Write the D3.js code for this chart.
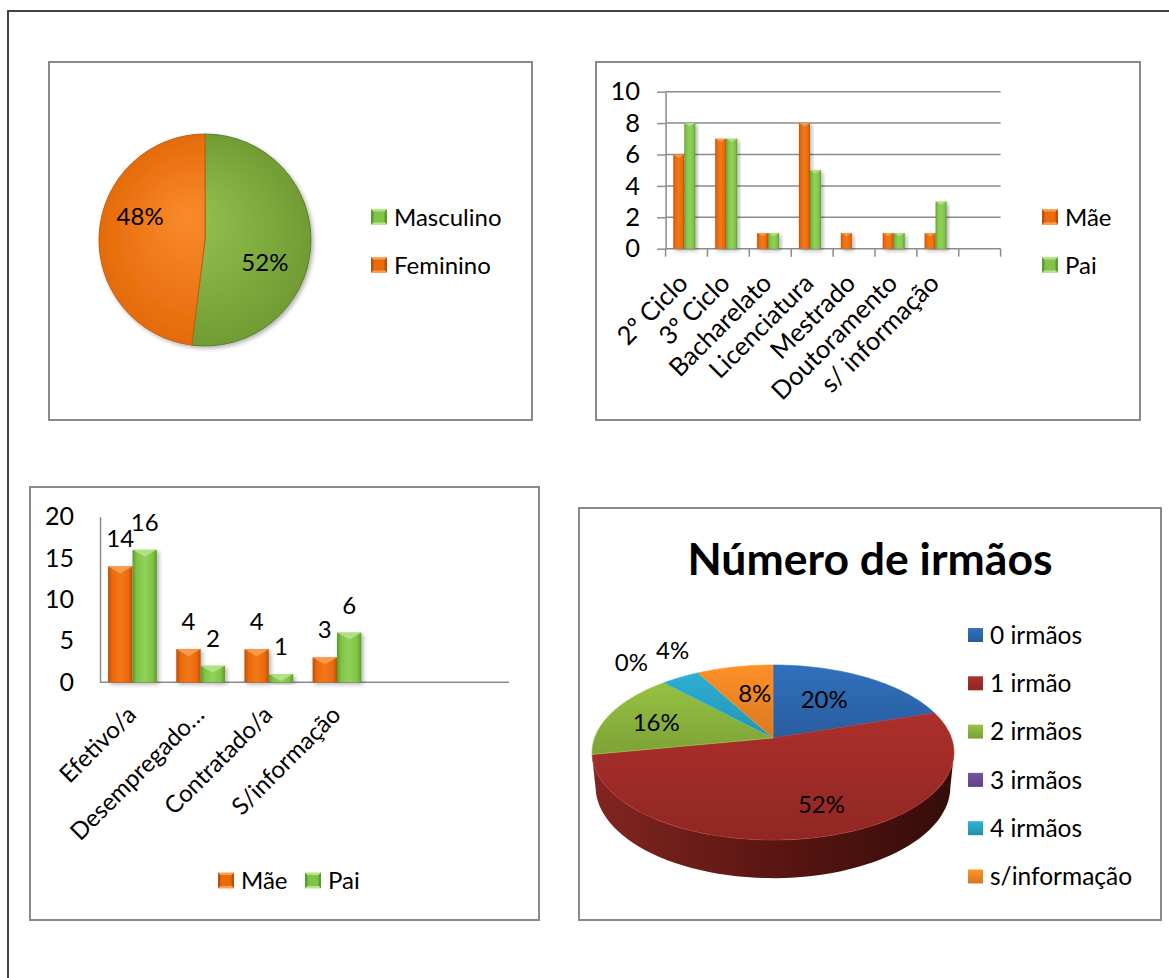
<!DOCTYPE html>
<html>
<head>
<meta charset="utf-8">
<script src="https://cdn.jsdelivr.net/npm/d3@7"></script>
<style>
  body { margin: 0; background: #fff; }
  text { font-family: Lato, "Open Sans", sans-serif; fill: #000; }
</style>
</head>
<body>
<svg id="chart"></svg>
<script>
// ---- data ----
// gender
const genderLabels = ["Masculino", "Feminino"];
const genderCounts = [13, 12];

// parents' education (last slot is an empty category)
const eduLevels = ["2º Ciclo", "3º Ciclo", "Bacharelato", "Licenciatura", "Mestrado", "Doutoramento", "s/ informação", ""];
const eduMae = [6, 7, 1, 8, 1, 1, 1, null];
const eduPai = [8, 7, 1, 5, 0, 1, 3, null];
const eduTicks = [0, 2, 4, 6, 8, 10];

// parents' job situation (last two slots empty)
const jobLabels = ["Efetivo/a", "Desempregado…", "Contratado/a", "S/informação", "", ""];
const jobMae = [14, 4, 4, 3, null, null];
const jobPai = [16, 2, 1, 6, null, null];
const jobTicks = [0, 5, 10, 15, 20];

// siblings
const sibLabels = ["0 irmãos", "1 irmão", "2 irmãos", "3 irmãos", "4 irmãos", "s/informação"];
const sibCounts = [5, 13, 4, 0, 1, 2];

const seriesNames = ["Mãe", "Pai"];

// ---- styles ----
const fs = 24;
const frameColor = "#8a8a8a";
const orange = { dark: "#b8520a", mid: "#ec6a0a", light: "#f9a256" };
const green = { dark: "#5f9a2c", mid: "#80c447", light: "#b8e48c" };
const sibColors = ["#2d66ad", "#9d2b27", "#89b13c", "#6a4a98", "#2aa0c2", "#ec8424"];
const pct = d3.format(".0%");

const svg = d3.select("#chart").attr("width", 1169).attr("height", 978);
const defs = svg.append("defs");

function linGrad(id, stops, x2 = 1, y2 = 0) {
  const g = defs.append("linearGradient").attr("id", id)
    .attr("x1", 0).attr("y1", 0).attr("x2", x2).attr("y2", y2);
  stops.forEach(([o, c]) => g.append("stop").attr("offset", o).attr("stop-color", c));
}
linGrad("barOrange", [[0, orange.dark], [0.18, orange.mid], [0.5, "#f27818"], [0.82, orange.mid], [1, orange.dark]]);
linGrad("barGreen", [[0, green.dark], [0.18, green.mid], [0.5, "#90d25a"], [0.82, green.mid], [1, green.dark]]);

const shadow = defs.append("filter").attr("id", "shadow").attr("x", "-30%").attr("y", "-30%").attr("width", "160%").attr("height", "160%");
shadow.append("feDropShadow").attr("dx", 2).attr("dy", 2).attr("stdDeviation", 2)
  .attr("flood-color", "#000").attr("flood-opacity", 0.3);

// outer page frame
svg.append("path").attr("d", "M8,978V11H1169").attr("fill", "none").attr("stroke", "#444").attr("stroke-width", 2);

// chart boxes
const boxes = [[49, 62, 483, 358], [596, 62, 544, 358], [30, 487, 509, 433], [579, 508, 582, 412]];
svg.append("g").selectAll("rect").data(boxes).join("rect")
  .attr("x", d => d[0]).attr("y", d => d[1]).attr("width", d => d[2]).attr("height", d => d[3])
  .attr("fill", "#fff").attr("stroke", frameColor).attr("stroke-width", 2);

function bevelMarker(g, x, y, size, c) {
  const m = g.append("g").attr("transform", `translate(${x},${y})`);
  const h = size / 2;
  const tris = [
    [[0, 0], [size, 0], [h, h], c.light],
    [[size, 0], [size, size], [h, h], c.dark],
    [[0, size], [size, size], [h, h], c.light],
    [[0, 0], [0, size], [h, h], c.dark]
  ];
  tris.forEach(t => m.append("path").attr("d", `M${t[0]}L${t[1]}L${t[2]}Z`).attr("fill", t[3]));
  m.append("rect").attr("x", 2.5).attr("y", 2.5).attr("width", size - 5).attr("height", size - 5).attr("fill", c.mid);
}

function bevelBar(g, x, y, w, h, grad, c) {
  if (h <= 0) return;
  const b = g.append("g").attr("filter", "url(#shadow)");
  b.append("rect").attr("x", x).attr("y", y).attr("width", w).attr("height", h).attr("fill", `url(#${grad})`);
  const d = Math.min(w * 0.3, 7, h);
  b.append("path").attr("d", `M${x},${y}L${x + w},${y}L${x + w / 2},${y + d}Z`).attr("fill", c.light).attr("opacity", 0.85);
}

// ================= chart 1: gender pie =================
{
  const cx = 205, cy = 240, r = 106;
  const pieGrad = [["#97c352", "#719c33"], ["#f98a2c", "#e56b09"]];
  pieGrad.forEach((c, i) => {
    const rg = defs.append("radialGradient").attr("id", "pie1g" + i)
      .attr("gradientUnits", "userSpaceOnUse").attr("cx", 0).attr("cy", 0).attr("r", r)
      .attr("fx", -20).attr("fy", -25);
    rg.append("stop").attr("offset", 0).attr("stop-color", c[0]);
    rg.append("stop").attr("offset", 1).attr("stop-color", c[1]);
  });
  const g = svg.append("g").attr("transform", `translate(${cx},${cy})`);
  const arcs = d3.pie().sort(null)(genderCounts);
  const arc = d3.arc().innerRadius(0).outerRadius(r);
  const labelArc = d3.arc().innerRadius(64).outerRadius(64);
  const total = d3.sum(genderCounts);
  const nudge = [[-4, 18], [-1, -20]];
  g.append("g").attr("filter", "url(#shadow)").selectAll("path").data(arcs).join("path")
    .attr("d", arc).attr("fill", (d, i) => `url(#pie1g${i})`)
    .attr("stroke", (d, i) => i === 0 ? "#5d7f2a" : "#c85d08").attr("stroke-width", 1);
  g.selectAll("text").data(arcs).join("text")
    .attr("x", (d, i) => labelArc.centroid(d)[0] + nudge[i][0])
    .attr("y", (d, i) => labelArc.centroid(d)[1] + nudge[i][1])
    .attr("dy", "0.36em").attr("text-anchor", "middle").attr("font-size", fs)
    .text(d => pct(d.value / total));

  const colors = [green, orange];
  const lg = svg.append("g");
  genderLabels.forEach((name, i) => {
    const y = 217 + i * 48;
    bevelMarker(lg, 371, y - 8, 16, colors[i]);
    lg.append("text").attr("x", 394).attr("y", y).attr("dy", "0.36em").attr("font-size", fs).text(name);
  });
}

// ================= chart 2: education bars =================
{
  const left = 665.6, right = 1000.6, y0 = 248.7, yTop = 91.7;
  const x = d3.scaleBand().domain(d3.range(eduLevels.length)).range([left, right]);
  const y = d3.scaleLinear().domain([0, 10]).range([y0, yTop]);
  const barW = 11;
  const xs = d3.scaleBand().domain(seriesNames).range([x.bandwidth() / 2 - barW - 2.2, x.bandwidth() / 2 + barW - 2.2]);
  const g = svg.append("g");

  // gridlines
  g.append("g").selectAll("line").data(eduTicks.filter(t => t > 0)).join("line")
    .attr("x1", left).attr("x2", right).attr("y1", d => y(d)).attr("y2", d => y(d))
    .attr("stroke", "#8c8c8c").attr("stroke-width", 1.5);

  // y axis
  const ya = g.append("g").attr("transform", `translate(${left},0)`)
    .call(d3.axisLeft(y).tickValues(eduTicks).tickSize(8.5).tickPadding(17).tickSizeOuter(0));
  ya.select(".domain").attr("stroke", "#8c8c8c").attr("stroke-width", 1.5);
  ya.selectAll(".tick line").attr("stroke", "#8c8c8c").attr("stroke-width", 1.5);
  ya.selectAll(".tick text").attr("font-family", "Lato, sans-serif").attr("font-size", 25.5).attr("fill", "#000");

  // x axis line and boundary ticks
  g.append("line").attr("x1", left).attr("x2", right).attr("y1", y0).attr("y2", y0)
    .attr("stroke", "#8c8c8c").attr("stroke-width", 1.5);
  g.append("g").selectAll("line").data(d3.range(eduLevels.length + 1)).join("line")
    .attr("x1", i => left + i * x.step()).attr("x2", i => left + i * x.step())
    .attr("y1", y0).attr("y2", y0 + 8).attr("stroke", "#8c8c8c").attr("stroke-width", 1.5);

  // bars
  const series = [[eduMae, "barOrange", orange], [eduPai, "barGreen", green]];
  const bars = g.append("g");
  series.forEach(([vals, grad, c], s) => {
    vals.forEach((v, i) => {
      if (v == null) return;
      bevelBar(bars, x(i) + xs(seriesNames[s]), y(v), xs.bandwidth(), y0 - y(v), grad, c);
    });
  });

  // rotated category labels
  g.append("g").selectAll("text").data(eduLevels).join("text")
    .attr("transform", (d, i) => `translate(${x(i) + x.bandwidth() / 2 + 3},${y0 + 36}) rotate(-45)`)
    .attr("text-anchor", "end").attr("font-size", 25.5).text(d => d);

  // legend
  const lg = svg.append("g");
  const colors = [orange, green];
  seriesNames.forEach((name, i) => {
    const yy = 217 + i * 48;
    bevelMarker(lg, 1042, yy - 8, 16, colors[i]);
    lg.append("text").attr("x", 1065).attr("y", yy).attr("dy", "0.36em").attr("font-size", fs).text(name);
  });
}

// ================= chart 3: job situation bars =================
{
  const left = 100, right = 509, y0 = 682.3, yTop = 516.7;
  const x = d3.scaleBand().domain(d3.range(jobLabels.length)).range([left, right]);
  const y = d3.scaleLinear().domain([0, 20]).range([y0, yTop]);
  const barW = 24.4;
  const xs = d3.scaleBand().domain(seriesNames).range([x.bandwidth() / 2 - barW - 1.6, x.bandwidth() / 2 + barW - 1.6]);
  const g = svg.append("g");

  const ya = g.append("g").attr("transform", `translate(${left},0)`)
    .call(d3.axisLeft(y).tickValues(jobTicks).tickSize(0).tickPadding(26).tickSizeOuter(0));
  ya.select(".domain").attr("stroke", "#8c8c8c").attr("stroke-width", 1.5);
  ya.selectAll(".tick text").attr("font-family", "Lato, sans-serif").attr("font-size", 25).attr("fill", "#000");

  g.append("line").attr("x1", left).attr("x2", right).attr("y1", y0).attr("y2", y0)
    .attr("stroke", "#8c8c8c").attr("stroke-width", 1.5);

  const series = [[jobMae, "barOrange", orange], [jobPai, "barGreen", green]];
  const bars = g.append("g");
  const labels = g.append("g");
  series.forEach(([vals, grad, c], s) => {
    vals.forEach((v, i) => {
      if (v == null) return;
      const bx = x(i) + xs(seriesNames[s]);
      bevelBar(bars, bx, y(v), xs.bandwidth(), y0 - y(v), grad, c);
      labels.append("text").attr("x", bx + xs.bandwidth() / 2).attr("y", y(v) - 19)
        .attr("text-anchor", "middle").attr("font-size", fs).text(v);
    });
  });

  g.append("g").selectAll("text").data(jobLabels).join("text")
    .attr("transform", (d, i) => `translate(${x(i) + x.bandwidth() / 2 + 3.5},${y0 + 34}) rotate(-45)`)
    .attr("text-anchor", "end").attr("font-size", fs).text(d => d);

  const lg = svg.append("g");
  const colors = [orange, green];
  const lx = [218, 305];
  seriesNames.forEach((name, i) => {
    bevelMarker(lg, lx[i], 872.5, 16, colors[i]);
    lg.append("text").attr("x", lx[i] + 23).attr("y", 880.7).attr("dy", "0.36em").attr("font-size", fs).text(name);
  });
}

// ================= chart 4: siblings 3D pie =================
{
  // perspective projection of a tilted disc
  const P = { cx: 773, cy: 738, s: 178.5, c: 0.166, sinPhi: 0.477, cosPhi: 0.879, yk: 0.0902, h: 0.22 };
  function proj(theta, r, up) {
    const X = r * Math.sin(theta), Z = -r * Math.cos(theta);
    const f = 1 - Z * P.c - up * P.yk;
    return [P.cx + P.s * X / f, P.cy + P.s * (Z * P.sinPhi - up * P.cosPhi) / f];
  }
  const arcs = d3.pie().sort(null)(sibCounts);
  const total = d3.sum(sibCounts);
  const g = svg.append("g");

  linGrad("sideRed", [[0, "#822521"], [0.45, "#5e1713"], [1, "#350c09"]]);
  defs.select("#sideRed").attr("gradientUnits", "userSpaceOnUse")
    .attr("x1", P.cx - P.s).attr("x2", P.cx + P.s).attr("y1", 0).attr("y2", 0);

  const visA = Math.acos(-P.c), visB = 2 * Math.PI - visA;
  const steps = t0 => d3.range(0, 1.0001, 1 / 60).map(k => t0[0] + (t0[1] - t0[0]) * k);

  // outer walls
  arcs.forEach((a, i) => {
    const t0 = Math.max(a.startAngle, visA), t1 = Math.min(a.endAngle, visB);
    if (t1 <= t0) return;
    const ts = steps([t0, t1]);
    const top = ts.map(t => proj(t, 1, 0));
    const bot = ts.slice().reverse().map(t => proj(t, 1, -P.h));
    g.append("path").attr("d", "M" + top.concat(bot).join("L") + "Z")
      .attr("fill", i === 1 ? "url(#sideRed)" : d3.color(sibColors[i]).darker(1.2));
  });

  // top faces
  arcs.forEach((a, i) => {
    if (a.endAngle - a.startAngle <= 0) return;
    const ts = steps([a.startAngle, a.endAngle]);
    const pts = [proj(0, 0, 0)].concat(ts.map(t => proj(t, 1, 0)));
    const fid = "top" + i;
    linGrad(fid, [[0, d3.color(sibColors[i]).brighter(0.25)], [1, d3.color(sibColors[i]).darker(0.25)]], 0, 1);
    g.append("path").attr("d", "M" + pts.join("L") + "Z").attr("fill", `url(#${fid})`)
      .attr("stroke", d3.color(sibColors[i]).brighter(0.4)).attr("stroke-width", 0.6);
  });

  // data labels
  const nudge = [[-7, 0], [19, 12], [-18, 0], [-9, -8], [12, -14], [6, 0]];
  arcs.forEach((a, i) => {
    const mid = (a.startAngle + a.endAngle) / 2;
    const frac = a.value / total;
    const outside = frac < 0.05;
    const [lx, ly] = proj(mid, outside ? 1.25 : 0.6, 0);
    g.append("text").attr("x", lx + nudge[i][0]).attr("y", ly + nudge[i][1]).attr("dy", "0.36em")
      .attr("text-anchor", "middle").attr("font-size", fs).text(pct(frac));
  });

  // title
  svg.append("text").attr("x", 870).attr("y", 575).attr("text-anchor", "middle")
    .attr("font-size", 44.5).attr("font-weight", "bold").text("Número de irmãos");

  // legend
  const lg = svg.append("g");
  sibLabels.forEach((name, i) => {
    const yy = 635 + i * 48.3;
    const lid = "leg" + i;
    linGrad(lid, [[0, d3.color(sibColors[i]).brighter(0.3)], [1, d3.color(sibColors[i]).darker(0.3)]], 0, 1);
    lg.append("rect").attr("x", 968).attr("y", yy - 7).attr("width", 15).attr("height", 14).attr("fill", `url(#${lid})`);
    lg.append("text").attr("x", 990).attr("y", yy).attr("dy", "0.36em").attr("font-size", 24.5).text(name);
  });
}
</script>
</body>
</html>
